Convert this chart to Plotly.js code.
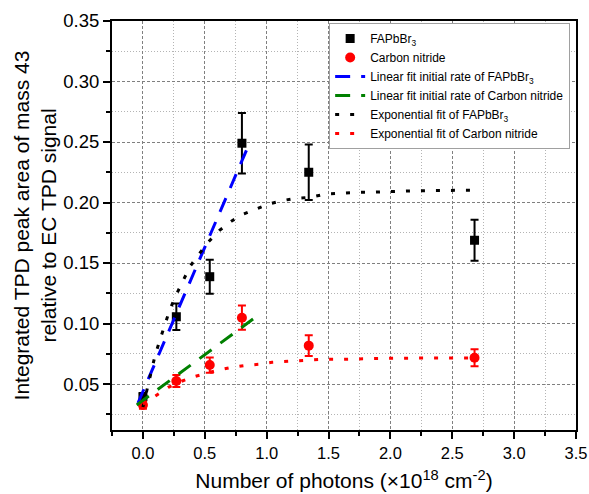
<!DOCTYPE html>
<html>
<head>
<meta charset="utf-8">
<script src="https://cdn.plot.ly/plotly-3.0.1.min.js"></script>
<style>html,body{margin:0;padding:0;background:#fff;}#chart{width:589px;height:494px;}</style>
</head>
<body>
<div id="chart"></div>
<script>
const photonX = [0, 0.27, 0.54, 0.80, 1.34, 2.68];
const fapY   = [0.0395, 0.1056, 0.1387, 0.249, 0.225, 0.1688];
const fapErr = [0.003, 0.011, 0.014, 0.025, 0.023, 0.017];
const cnY    = [0.0326, 0.0525, 0.0657, 0.1048, 0.0817, 0.0717];
const cnErr  = [0.003, 0.005, 0.0063, 0.010, 0.0085, 0.007];

// Linear fits of the initial rate (end points)
const linFapX = [-0.04, 0.865];
const linFapY = [0.0343, 0.250];
const linCnX  = [-0.05, 0.89];
const linCnY  = [0.0327, 0.1037];

// Exponential fits
const expFapX = [0, 0.036, 0.097, 0.137, 0.178, 0.218, 0.272, 0.323, 0.38, 0.452, 0.525, 0.619, 0.721, 0.815, 0.915, 1.017, 1.125, 1.232, 1.353, 1.475, 1.601, 1.709, 1.83, 2.023, 2.153, 2.28, 2.418, 2.548, 2.68];
const expFapY = [0.031, 0.0473, 0.0731, 0.0864, 0.0996, 0.1117, 0.1244, 0.1354, 0.147, 0.1572, 0.167, 0.177, 0.185, 0.1905, 0.1946, 0.1988, 0.2015, 0.2035, 0.2043, 0.207, 0.2076, 0.2084, 0.2084, 0.2093, 0.2095, 0.2098, 0.21, 0.2101, 0.2102];
const expCnX = [0, 0.108, 0.205, 0.318, 0.412, 0.514, 0.614, 0.721, 0.835, 0.936, 1.044, 1.184, 1.308, 1.44, 1.577, 1.709, 1.838, 2.023, 2.153, 2.28, 2.418, 2.548, 2.68];
const expCnY = [0.0333, 0.0409, 0.0473, 0.0525, 0.056, 0.0589, 0.0616, 0.0638, 0.0655, 0.0663, 0.068, 0.0688, 0.0696, 0.0704, 0.0704, 0.0708, 0.0713, 0.0713, 0.0714, 0.0714, 0.0715, 0.0715, 0.0715];

const names = [
  'FAPbBr<sub>3</sub>',
  'Carbon nitride',
  'Linear fit initial rate of FAPbBr<sub>3</sub>',
  'Linear fit initial rate of Carbon nitride',
  'Exponential fit of FAPbBr<sub>3</sub>',
  'Exponential fit of Carbon nitride'
];

const FONT = 'Arial, "Liberation Sans", sans-serif';

const traces = [
  {x: photonX, y: fapY, name: names[0], type: 'scatter', mode: 'markers',
   marker: {symbol: 'square', size: 9, color: '#000000'},
   error_y: {type: 'data', array: fapErr, visible: true, color: '#000000', thickness: 2, width: 4}},
  {x: photonX, y: cnY, name: names[1], type: 'scatter', mode: 'markers',
   marker: {symbol: 'circle', size: 10, color: '#ff0000'},
   error_y: {type: 'data', array: cnErr, visible: true, color: '#ff0000', thickness: 2, width: 4}},
  {x: linFapX, y: linFapY, name: names[2], type: 'scatter', mode: 'lines',
   line: {color: '#0000ff', width: 3, dash: '15px,11px'}},
  {x: linCnX, y: linCnY, name: names[3], type: 'scatter', mode: 'lines',
   line: {color: '#008000', width: 3, dash: '15px,11px'}},
  {x: expFapX, y: expFapY, name: names[4], type: 'scatter', mode: 'lines',
   line: {color: '#000000', width: 3, dash: '4px,11px'}},
  {x: expCnX, y: expCnY, name: names[5], type: 'scatter', mode: 'lines',
   line: {color: '#ff0000', width: 3, dash: '4px,11px'}}
];

const axisCommon = {
  showline: true, linecolor: '#000000', linewidth: 2, mirror: true,
  ticks: 'outside', ticklen: 7, tickwidth: 2, tickcolor: '#000000',
  showgrid: true, gridcolor: '#7f7f7f', gridwidth: 1, griddash: '3px,2px',
  zeroline: false
};

const layout = {
  width: 589, height: 494,
  margin: {l: 112, r: 13, t: 21, b: 64, pad: 0},
  paper_bgcolor: '#ffffff', plot_bgcolor: '#ffffff',
  font: {family: FONT, color: '#000000'},
  showlegend: true,
  legend: {x: 0.468, y: 0.995, xanchor: 'left', yanchor: 'top',
           bgcolor: '#ffffff', bordercolor: '#a0a0a0', borderwidth: 1,
           font: {family: FONT, size: 12, color: '#000000'}},
  xaxis: Object.assign({}, axisCommon, {
    range: [-0.25, 3.5], tick0: 0, dtick: 0.5, tickformat: '.1f',
    tickfont: {family: FONT, size: 16.5, color: '#000000'},
    minor: {dtick: 0.25, tick0: 0, showgrid: true, gridcolor: '#b4b4b4', griddash: '1px,2px',
            ticks: 'outside', ticklen: 4, tickwidth: 2, tickcolor: '#000000'},
    title: {text: 'Number of photons (×10<sup>18</sup> cm<sup>-2</sup>)',
            font: {family: FONT, size: 21, color: '#000000'}, standoff: 13},
    automargin: false
  }),
  yaxis: Object.assign({}, axisCommon, {
    range: [0.012, 0.35], tick0: 0, dtick: 0.05, tickformat: '.2f',
    tickfont: {family: FONT, size: 18.5, color: '#000000'},
    minor: {dtick: 0.025, tick0: 0, showgrid: true, gridcolor: '#b4b4b4', griddash: '1px,2px',
            ticks: 'outside', ticklen: 4, tickwidth: 2, tickcolor: '#000000'},
    title: {text: 'Integrated TPD peak area of mass 43<br>relative to EC TPD signal',
            font: {family: FONT, size: 21, color: '#000000'}, standoff: 1},
    automargin: false
  })
};

Plotly.newPlot('chart', traces, layout, {displayModeBar: false, staticPlot: true});
</script>
</body>
</html>
